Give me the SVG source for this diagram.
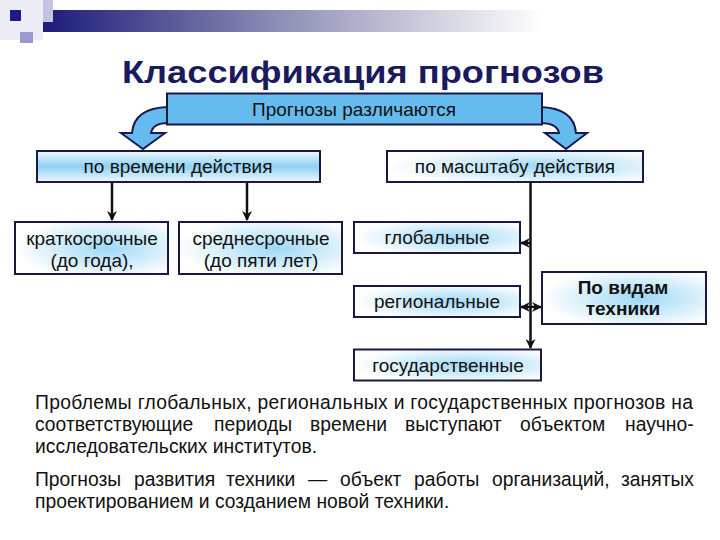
<svg xmlns="http://www.w3.org/2000/svg" width="720" height="540" viewBox="0 0 720 540">
<defs>
<linearGradient id="bar" x1="0" y1="0" x2="1" y2="0">
<stop offset="0" stop-color="#1c1c7a"/>
<stop offset="0.5" stop-color="#9494b8"/>
<stop offset="1" stop-color="#ffffff"/>
</linearGradient>
<linearGradient id="hdr" x1="0" y1="0" x2="0" y2="1">
<stop offset="0" stop-color="#eef8fe"/>
<stop offset="0.5" stop-color="#8fd0f3"/>
<stop offset="1" stop-color="#eef8fe"/>
</linearGradient>
<radialGradient id="leaf" cx="0.6" cy="0.5" r="0.6">
<stop offset="0" stop-color="#9fd8f6"/>
<stop offset="0.6" stop-color="#d8effb"/>
<stop offset="1" stop-color="#ffffff"/>
</radialGradient>
<marker id="ah" viewBox="0 0 10 10" refX="9" refY="5" markerWidth="10" markerHeight="10" markerUnits="userSpaceOnUse" orient="auto-start-reverse">
<path d="M0,0 L10,5 L0,10 L3,5 Z" fill="#111"/>
</marker>
<style>
.box{stroke:#1a1a40;stroke-width:2}
.lbl{font-family:"Liberation Sans",Arial,sans-serif;font-size:19px;fill:#111;text-anchor:middle}
.par{font-family:"Liberation Sans",Arial,sans-serif;font-size:19.3px;fill:#111}
.con{stroke:#111;stroke-width:2.5;fill:none}
.carrow{fill:#66bbee;stroke:#1a1a50;stroke-width:2}
</style>
</defs>
<rect width="720" height="540" fill="#ffffff"/>
<!-- header decoration -->
<rect x="0" y="0" width="43" height="40" fill="#ececf4"/>
<rect x="43" y="10" width="500" height="22" fill="url(#bar)"/>
<rect x="43" y="0" width="10" height="22" fill="#c4c4e0"/>
<rect x="10" y="10" width="11" height="11" fill="#1a1a8c"/>
<rect x="20" y="32" width="13" height="11" fill="#9a9ad0"/>
<text x="363" y="83" font-family="Liberation Sans,Arial,sans-serif" font-size="31" font-weight="bold" fill="#1a1a5e" text-anchor="middle" textLength="482" lengthAdjust="spacingAndGlyphs">Классификация прогнозов</text>

<g id="connectors">
<path class="carrow" d="M168,107 Q134,108 132,133 L121,133 L143,149 L165,133 L151,133 Q153,123 168,123 Z"/>
<path class="carrow" d="M540,107 Q574,108 576,133 L587,133 L566,149 L545,133 L559,133 Q557,123 540,123 Z"/>
<line class="con" x1="112" y1="182" x2="112" y2="220" marker-end="url(#ah)"/>
<line class="con" x1="247" y1="182" x2="247" y2="220" marker-end="url(#ah)"/>
<line class="con" x1="530.5" y1="182" x2="530.5" y2="348" marker-end="url(#ah)"/>
<line class="con" x1="530" y1="243" x2="521" y2="243" marker-end="url(#ah)"/>
<line class="con" x1="521" y1="307" x2="541" y2="307" marker-start="url(#ah)" marker-end="url(#ah)"/>
</g>

<g id="n-root">
<rect class="box" x="167" y="93.5" width="375" height="31" fill="#66bbee"/>
<text class="lbl" x="354" y="116">Прогнозы различаются</text>
</g>
<g id="n-time">
<rect class="box" x="37" y="151" width="283" height="31" fill="url(#hdr)"/>
<text class="lbl" x="178" y="173">по времени действия</text>
</g>
<g id="n-scale">
<rect class="box" x="387" y="151" width="256" height="31" fill="url(#leaf)"/>
<text class="lbl" x="515" y="173">по масштабу действия</text>
</g>
<g id="n-short">
<rect class="box" x="15" y="222" width="153" height="52" fill="url(#leaf)"/>
<text class="lbl" x="92" y="245">краткосрочные</text>
<text class="lbl" x="92" y="267">(до года),</text>
</g>
<g id="n-mid">
<rect class="box" x="179" y="222" width="163" height="52" fill="url(#leaf)"/>
<text class="lbl" x="261" y="245">среднесрочные</text>
<text class="lbl" x="261" y="267">(до пяти лет)</text>
</g>
<g id="n-global">
<rect class="box" x="354" y="222" width="166" height="31" fill="url(#leaf)"/>
<text class="lbl" x="437" y="244">глобальные</text>
</g>
<g id="n-regional">
<rect class="box" x="354" y="286" width="166" height="31" fill="url(#leaf)"/>
<text class="lbl" x="437" y="308">региональные</text>
</g>
<g id="n-tech">
<rect class="box" x="542" y="272" width="164" height="52" fill="url(#leaf)"/>
<text class="lbl" x="623" y="294" font-weight="bold" font-size="17.5">По видам</text>
<text class="lbl" x="623" y="315" font-weight="bold" font-size="17.5">техники</text>
</g>
<g id="n-state">
<rect class="box" x="354" y="349.5" width="187" height="31" fill="url(#leaf)"/>
<text class="lbl" x="448" y="372">государственные</text>
</g>

<g id="paragraphs">
<text class="par" x="35" y="409" textLength="658" lengthAdjust="spacing">Проблемы глобальных, региональных и государственных прогнозов на</text>
<text class="par" y="431"><tspan x="35">соответствующие</tspan><tspan x="214">периоды</tspan><tspan x="310">времени</tspan><tspan x="405">выступают</tspan><tspan x="520">объектом</tspan><tspan x="625">научно-</tspan></text>
<text class="par" x="35" y="453">исследовательских институтов.</text>
<text class="par" y="486"><tspan x="35">Прогнозы</tspan><tspan x="134">развития</tspan><tspan x="226">техники</tspan><tspan x="308">—</tspan><tspan x="340">объект</tspan><tspan x="414">работы</tspan><tspan x="492">организаций,</tspan><tspan x="621">занятых</tspan></text>
<text class="par" x="35" y="508">проектированием и созданием новой техники.</text>
</g>
</svg>
